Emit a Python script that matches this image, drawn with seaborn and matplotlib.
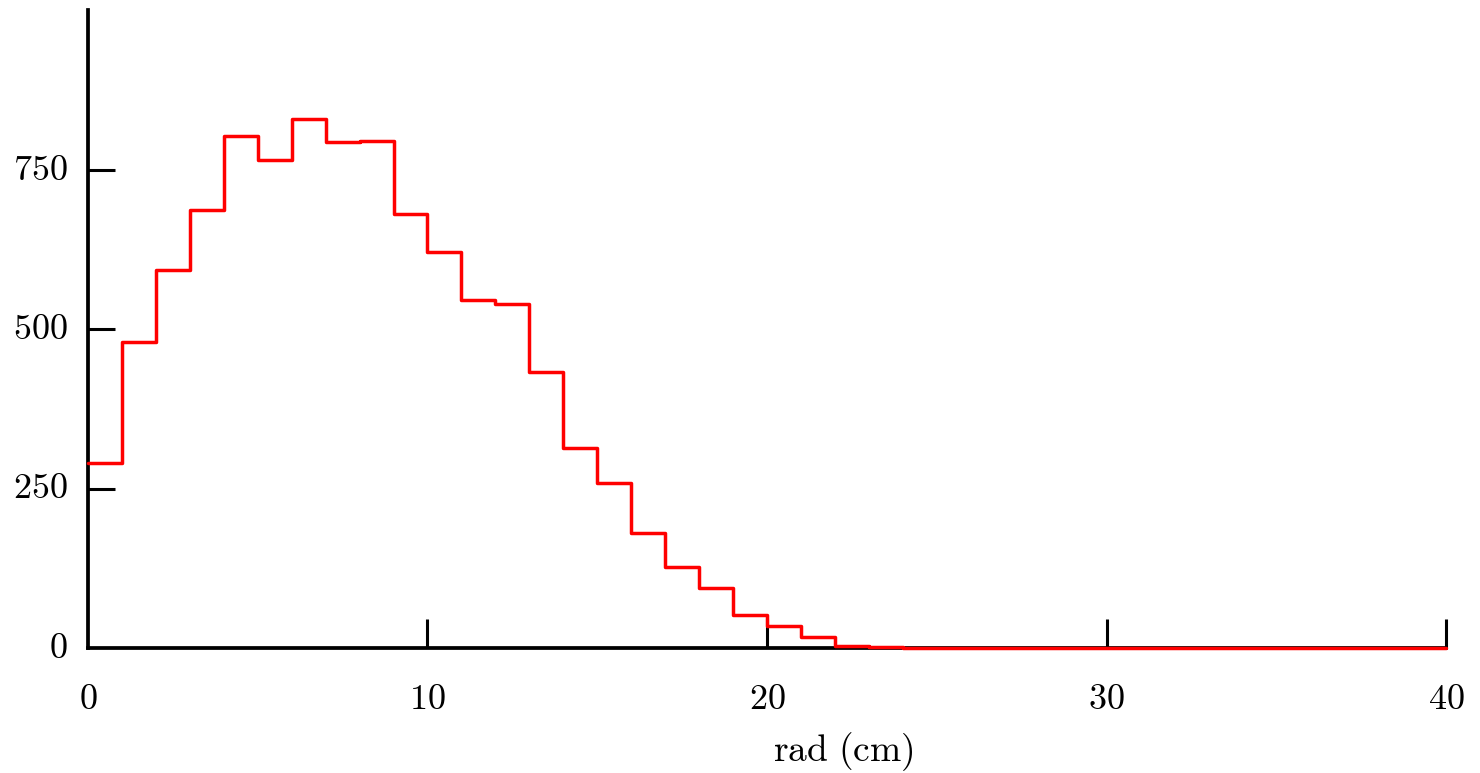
import numpy as np
import pandas as pd
import matplotlib
matplotlib.use("Agg")
import matplotlib.pyplot as plt
import seaborn as sns

# Data: histogram counts per 1 cm bin, 0..40 cm
bin_edges = list(range(0, 41))
counts = [290, 479, 592, 687, 802, 765, 829, 793, 795, 680,
          620, 546, 539, 433, 314, 258, 181, 127, 94, 51,
          34, 18, 3, 1, 0, 0, 0, 0, 0, 0,
          0, 0, 0, 0, 0, 0, 0, 0, 0, 0]
x_ticks = [10, 20, 30, 40]
x_tick_labels = ["0", "10", "20", "30", "40"]
y_ticks = [250, 500, 750]
y_tick_labels = ["0", "250", "500", "750"]
x_label = "rad (cm)"

sns.set_style("white")
plt.rcParams["mathtext.fontset"] = "cm"
plt.rcParams["font.family"] = ["DejaVu Serif"]

centers = [(a + b) / 2 for a, b in zip(bin_edges[:-1], bin_edges[1:])]
df = pd.DataFrame({"rad": centers, "count": counts})

fig = plt.figure(figsize=(14.8, 7.73), dpi=100)
ax = fig.add_axes([88 / 1480, 1 - 648 / 773, (1446 - 88) / 1480, (648 - 10) / 773])

sns.histplot(data=df, x="rad", weights="count", bins=bin_edges,
             element="step", fill=False, color="#ff0000", linewidth=2.5,
             ax=ax, zorder=5, clip_on=False)

ax.set_xlim(0, 40)
ax.set_ylim(0, 1000)

for s in ["top", "right"]:
    ax.spines[s].set_visible(False)
for s in ["left", "bottom"]:
    ax.spines[s].set_linewidth(2.7)
    ax.spines[s].set_color("black")

ax.set_xticks(x_ticks)
ax.set_xticklabels([])
ax.set_yticks(y_ticks)
ax.set_yticklabels([])
ax.tick_params(axis="x", bottom=True, direction="in", length=21, width=2.2, color="black")
ax.tick_params(axis="y", left=True, direction="in", length=19.5, width=2.2, color="black")

# Tick labels as real text (including the 0 labels, which have no tick mark)
fs = 26
for v, lab in zip([0] + x_ticks, x_tick_labels):
    ax.text(v, -0.053, f"${lab}$", transform=ax.get_xaxis_transform(),
            ha="center", va="top", fontsize=fs, color="black", clip_on=False)
for v, lab in zip([0] + y_ticks, y_tick_labels):
    ax.text(-0.015, v, f"${lab}$", transform=ax.get_yaxis_transform(),
            ha="right", va="center", fontsize=fs, color="black", clip_on=False)

ax.set_xlabel(r"$\mathrm{rad\ (cm)}$", fontsize=27, color="black")
ax.xaxis.set_label_coords((843 - 88) / (1446 - 88), -0.128)
ax.set_ylabel("")

fig.savefig("out.png", dpi=100)
